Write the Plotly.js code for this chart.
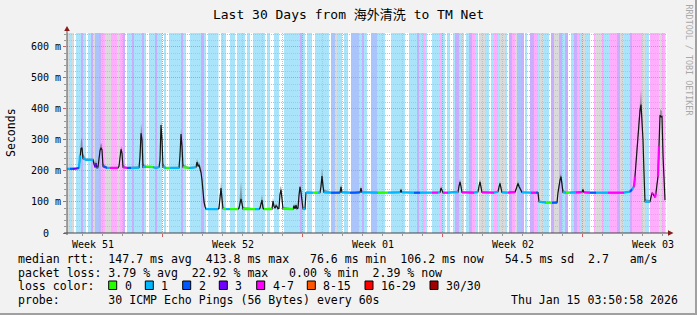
<!DOCTYPE html>
<html><head><meta charset="utf-8">
<script src="https://cdn.plot.ly/plotly-3.0.1.min.js"></script>
<style>html,body{margin:0;padding:0;background:#f2f2f2;}#chart{width:697px;height:315px;}</style>
</head><body><div id="chart"></div>
<script>
// ---------------- DATA ----------------
const chartTitle = 'Last 30 Days from 海外清洗 to TM Net';
const yTitle = 'Seconds';
const watermark = 'RRDTOOL / TOBI OETIKER';
const weekLabels = ['Week 51', 'Week 52', 'Week 01', 'Week 02', 'Week 03'];
const weekLabelPos = [1.3, 8.3, 15.3, 22.3, 29.3];       // days from start (mid-week)
const weekStarts = [4.77, 11.77, 18.77, 25.77];           // days from start
const firstMidnight = 0.77;
const yTickVals = [0, 100, 200, 300, 400, 500, 600];
const yTickText = ['0  ', '100 m', '200 m', '300 m', '400 m', '500 m', '600 m'];
const lossClasses = ['0', '1', '2', '3', '4-7', '8-15', '16-29', '30/30'];
const lossColors = ['#26ff00', '#00b8ff', '#0059ff', '#7000ff', '#ff00ff', '#ff5500', '#ff0000', '#a10000'];
const statsRtt = 'median rtt:  147.7 ms avg  413.8 ms max   76.6 ms min  106.2 ms now   54.5 ms sd  2.7   am/s';
const statsLoss = 'packet loss: 3.79 % avg  22.92 % max   0.00 % min  2.39 % now';
const lossLabel = 'loss color:';
const probeText = 'probe:       30 ICMP Echo Pings (56 Bytes) every 60s';
const stampText = 'Thu Jan 15 03:50:58 2026';

// loss background bands: start day and loss class ('0' none, '1','2','3','4-7', '?' grey)
const bandStart = [0,0.1,0.25,0.35,0.45,0.7,0.8,0.95,1.05,1.2,
  1.3,1.4,1.6,1.7,1.9,2.2,2.5,2.65,2.8,2.9,
  3.0,3.25,3.35,3.75,3.85,3.95,4.1,4.4,4.5,4.75,
  4.85,4.95,5.1,5.7,5.8,5.95,6.15,6.7,6.85,6.95,
  7.05,7.575,7.7,7.95,8.15,8.4,8.5,8.9,9.0,9.15,
  9.3,9.9,10.0,10.15,10.35,10.6,10.85,11.65,11.75,11.9,
  12.0,12.25,12.4,13.1,13.2,13.4,13.5,13.75,13.85,14.05,
  14.2,14.6,14.75,14.85,15.0,15.2,15.5,15.9,16.2,16.9,
  17.1,17.5,17.6,17.8,17.9,18.0,18.25,18.65,18.75,18.9,
  19.0,19.15,19.3,19.4,19.6,19.75,19.85,19.95,20.1,20.25,
  20.4,20.55,20.6,20.9,21.1,21.2,21.35,21.55,21.65,21.9,
  22.0,22.1,22.25,22.4,22.5,22.7,22.85,22.9,23.0,23.15,
  23.35,23.55,23.65,23.85,24.1,24.2,24.35,24.6,24.75,24.9,
  25.05,25.2,25.35,25.5,25.65,25.75,25.9,26.15,26.35,26.4,
  26.75,26.85,27.15,27.5,27.65,27.85,28.15,28.25,28.75,28.9,
  29.1,29.15,29.6,29.75];
const bandLoss = ['?','1','?','0','1','3','1','0','1','3',
  '?','2','3','4-7','?','4-7','?','4-7','3','0',
  '1','3','1','3','1','0','1','3','1','0',
  '1','0','1','3','1','0','1','3','1','0',
  '1','0','1','0','1','0','1','0','1','0',
  '1','0','1','0','1','0','1','3','1','0',
  '1','0','1','0','2','?','1','0','1','0',
  '2','1','3','1','0','2','1','0','1','0',
  '1','3','1','4-7','1','0','1','4-7','1','0',
  '1','0','1','3','1','?','0','1','3','4-7',
  '1','0','?','1','0','1','4-7','1','?','1',
  '0','3','4-7','?','2','3','0','1','0','3',
  '4-7','1','?','1','0','3','?','3','1','3',
  '0','1','3','4-7','1','?','1','0','4-7','?',
  '4-7','1','4-7','3','?','1','3','4-7','?','1',
  '0','4-7','?','4-7'];
const dataEnd = 29.925;

// median rtt series (days from start, ms), smoke top (ms), loss class index (null = not coloured)
const t = [0,0.15,0.3,0.5,0.6,0.65,0.7,0.75,0.8,0.95,
  1.15,1.3,1.35,1.4,1.45,1.5,1.55,1.6,1.65,1.7,
  1.75,1.8,2.0,2.15,2.35,2.55,2.6,2.65,2.7,2.75,
  2.8,3.0,3.2,3.4,3.6,3.65,3.7,3.75,3.8,3.95,
  4.15,4.3,4.45,4.6,4.65,4.7,4.75,4.8,4.95,5.15,
  5.4,5.6,5.65,5.7,5.75,5.8,6.1,6.25,6.45,6.5,
  6.55,6.6,6.65,6.7,6.75,6.8,6.85,6.9,6.95,7.15,
  7.35,7.55,7.6,7.65,7.7,7.75,7.8,7.95,8.15,8.55,
  8.6,8.65,8.7,8.75,8.8,9.4,9.6,9.65,9.7,9.75,
  9.8,9.85,10.25,10.3,10.35,10.4,10.45,10.5,10.55,10.6,
  10.65,10.7,10.75,10.8,11.3,11.35,11.4,11.45,11.5,11.55,
  11.6,11.65,11.7,11.75,11.8,11.9,11.95,12.3,12.55,12.65,
  12.7,12.75,12.8,12.85,13.2,13.45,13.65,13.7,13.75,14.15,
  14.45,14.65,14.7,14.75,15.55,16.05,16.65,16.7,16.75,17.35,
  17.65,18.25,18.55,18.65,18.7,18.75,18.8,19.05,19.55,19.6,
  19.65,19.7,19.75,20.35,20.55,20.6,20.65,20.7,20.75,21.35,
  21.55,21.6,21.65,21.7,21.75,22.05,22.4,22.45,22.5,22.55,
  22.6,22.7,22.75,23.2,23.45,23.55,23.6,23.95,24.25,24.5,
  24.55,24.6,24.65,24.7,24.75,24.8,24.95,25.15,25.45,25.75,
  25.8,25.85,26.15,26.45,27.05,27.85,28.15,28.25,28.35,28.4,
  28.45,28.5,28.55,28.6,28.65,28.7,28.75,28.8,28.85,28.9,
  29.15,29.2,29.25,29.3,29.4,29.45,29.5,29.55,29.6,29.65,
  29.7,29.75,29.8,29.85,29.9];
const rtt = [207,207,207,208,210,250,272,275,240,236,
  236,236,222,212,225,210,212,245,265,275,
  268,215,210,210,210,210,215,255,270,258,
  212,210,210,210,211,245,322,300,212,214,
  214,212,210,212,235,348,300,212,210,210,
  210,210,250,319,280,212,210,210,212,229,
  215,220,210,195,170,120,100,85,77,77,
  77,77,80,120,145,110,78,77,77,77,
  80,100,110,95,77,77,77,80,95,106,
  80,77,77,103,85,80,88,85,78,80,
  125,139,110,78,77,88,78,90,78,80,
  120,149,130,100,78,77,130,130,130,130,
  150,184,150,131,130,130,130,149,131,130,
  130,131,145,131,130,130,131,140,131,130,
  130,130,130,131,145,135,130,130,132,150,
  165,150,131,130,132,150,165,148,131,130,
  133,148,160,145,131,130,132,140,150,160,
  150,140,131,130,130,130,101,98,98,98,
  130,160,170,182,160,131,130,130,130,132,
  140,131,130,130,130,130,133,140,150,182,
  230,268,300,354,395,414,360,300,193,101,
  101,115,129,125,115,130,160,182,280,380,
  375,376,250,149,106];
const smokeTop = [210,210,210,211,214,262,300,306,255,240,
  240,240,236,225,235,220,218,255,280,290,
  285,225,213,213,213,214,222,268,280,272,
  220,213,213,213,215,270,355,330,225,217,
  217,215,213,216,250,361,330,225,213,213,
  213,214,265,335,300,222,213,213,215,240,
  225,230,222,210,185,140,115,95,82,80,
  80,80,90,140,165,130,85,80,80,80,
  88,130,165,120,85,80,80,88,115,123,
  95,80,82,115,95,85,95,92,82,90,
  145,152,130,85,80,95,82,98,82,90,
  140,152,145,115,85,80,135,133,133,134,
  170,210,180,140,133,133,134,158,136,133,
  133,135,152,135,133,133,134,146,134,133,
  133,133,133,134,152,140,133,133,136,158,
  175,158,135,133,136,158,175,156,135,133,
  137,155,168,152,135,133,136,148,158,168,
  158,145,134,133,133,133,104,101,101,102,
  140,170,185,190,172,140,133,133,133,136,
  146,134,133,133,133,133,137,145,158,195,
  250,290,330,380,430,461,400,330,220,110,
  106,122,135,130,122,140,175,200,310,400,
  395,395,280,165,110];
const n = null;
const loss = [1,2,3,2,1,n,n,n,1,1,
  1,n,n,3,n,2,n,n,n,n,
  n,2,1,4,4,n,n,n,n,n,
  4,2,1,1,n,n,n,n,1,0,
  0,1,1,n,n,n,n,1,0,1,
  1,n,n,n,n,0,1,1,n,n,
  n,n,n,n,n,n,n,n,1,1,
  1,n,n,n,n,n,0,1,0,n,
  n,n,n,n,0,1,n,n,n,n,
  n,0,n,n,n,n,n,n,n,n,
  n,n,n,0,n,n,n,n,n,n,
  n,n,n,n,1,n,1,0,1,n,
  n,n,n,1,2,2,n,n,1,2,
  2,n,n,1,0,1,n,n,1,2,
  1,4,1,n,n,n,4,1,n,n,
  n,n,4,1,n,n,n,n,4,1,
  n,n,n,n,1,4,n,n,n,n,
  n,n,1,4,2,n,1,0,2,n,
  n,n,n,n,n,1,0,1,4,n,
  n,4,2,1,4,1,2,1,4,n,
  n,n,n,n,n,n,n,n,n,1,
  n,n,4,n,4,n,n,4,n,n,
  n,n,n,n,4];

// ---------------- LAYOUT HELPERS ----------------
const FONT = '"DejaVu Sans Mono", "Noto Sans CJK SC", monospace';
const W = 697, H = 315, L = 67, T = 33, PW = 600, PH = 200;
const px = v => (v - L) / PW;           // page pixel -> paper x
const py = v => (T + PH - v) / PH;      // page pixel -> paper y
const nb = s => s.replace(/ /g, '\u00a0');
const bandColor = {'1': '#a9e4fb', '2': '#a9c5fc', '3': '#c8aefc', '4-7': '#feaefc', '?': '#dadada'};

// ---------------- TRACES ----------------
const traces = [];
traces.push({x: t, y: rtt, mode: 'lines', line: {width: 0, color: 'rgba(0,0,0,0)'}, hoverinfo: 'skip'});
traces.push({x: t, y: smokeTop, mode: 'lines', line: {width: 0, color: 'rgba(0,0,0,0)'},
  fill: 'tonexty', fillcolor: 'rgba(90,90,90,0.5)', hoverinfo: 'skip'});
traces.push({x: t, y: rtt, mode: 'lines', line: {width: 1.2, color: '#151515'}, hoverinfo: 'skip'});
for (let c = 0; c < lossClasses.length; c++) {
  const xs = [], ys = [];
  for (let i = 0; i < t.length - 1; i++) {
    if (loss[i] === c) { xs.push(t[i], t[i + 1], null); ys.push(rtt[i], rtt[i + 1], null); }
  }
  if (xs.length) traces.push({x: xs, y: ys, mode: 'lines', line: {width: 2.2, color: lossColors[c]}, hoverinfo: 'skip', connectgaps: false});
}
traces.push({x: [null], y: [null], xaxis: 'x2', yaxis: 'y', mode: 'markers', hoverinfo: 'skip'});

// ---------------- SHAPES ----------------
const shapes = [];
for (let i = 0; i < bandStart.length; i++) {
  const cls = bandLoss[i];
  if (cls === '0') continue;
  const x1 = i + 1 < bandStart.length ? bandStart[i + 1] : dataEnd;
  shapes.push({type: 'rect', xref: 'x', yref: 'paper', x0: bandStart[i], x1: x1, y0: 0, y1: 1,
    fillcolor: bandColor[cls], line: {width: 0}, layer: 'below'});
}
// axis arrows & extensions
shapes.push({type: 'line', xref: 'paper', yref: 'paper', x0: px(67), x1: px(67), y0: py(235), y1: py(30), line: {color: '#555', width: 1}, layer: 'above'});
shapes.push({type: 'line', xref: 'paper', yref: 'paper', x0: px(64), x1: px(669), y0: py(233), y1: py(233), line: {color: '#444', width: 1}, layer: 'above'});
shapes.push({type: 'path', xref: 'paper', yref: 'paper', path: `M ${px(64.2)} ${py(31)} L ${px(69.8)} ${py(31)} L ${px(67)} ${py(26)} Z`, fillcolor: '#8b1a1a', line: {width: 0}, layer: 'above'});
shapes.push({type: 'path', xref: 'paper', yref: 'paper', path: `M ${px(668)} ${py(230.2)} L ${px(668)} ${py(235.8)} L ${px(673.5)} ${py(233)} Z`, fillcolor: '#8b1a1a', line: {width: 0}, layer: 'above'});
// frame shading
shapes.push({type: 'rect', xref: 'paper', yref: 'paper', x0: px(695), x1: px(697), y0: py(315), y1: py(0), fillcolor: '#a0a0a0', line: {width: 0}, layer: 'above'});
shapes.push({type: 'rect', xref: 'paper', yref: 'paper', x0: px(0), x1: px(697), y0: py(315), y1: py(313), fillcolor: '#a0a0a0', line: {width: 0}, layer: 'above'});
// loss colour legend boxes
const boxX = [108.7, 145.3, 182.7, 219.3, 256.7, 307.3, 365, 430];
const annotations = [];
boxX.forEach((bx, i) => {
  shapes.push({type: 'rect', xref: 'paper', yref: 'paper', x0: px(bx), x1: px(bx + 8), y0: py(289.5), y1: py(281),
    fillcolor: lossColors[i], line: {color: '#000', width: 1}, layer: 'above'});
  annotations.push({xref: 'paper', yref: 'paper', x: px(bx + 14), y: py(286), xanchor: 'left', yanchor: 'middle',
    text: nb(lossClasses[i]), showarrow: false, font: {family: FONT, size: 11.55, color: '#000'}});
});

const textLine = (s, xp, yp, anchor) => ({xref: 'paper', yref: 'paper', x: px(xp), y: py(yp), xanchor: anchor || 'left', yanchor: 'middle',
  text: nb(s), showarrow: false, font: {family: FONT, size: 11.55, color: '#000'}});
annotations.push(textLine(statsRtt, 16, 259));
annotations.push(textLine(statsLoss, 16, 272.8));
annotations.push(textLine(lossLabel, 16, 286));
annotations.push(textLine(probeText, 16, 300.3));
annotations.push(textLine(stampText, 680, 300.3, 'right'));
annotations.push({xref: 'paper', yref: 'paper', x: px(11), y: py(133), xanchor: 'center', yanchor: 'middle', textangle: -90,
  text: yTitle, showarrow: false, font: {family: FONT, size: 11.55, color: '#000'}});
annotations.push({xref: 'paper', yref: 'paper', x: px(688.5), y: py(60), xanchor: 'center', yanchor: 'middle', textangle: 90,
  text: nb(watermark), showarrow: false, font: {family: FONT, size: 8.4, color: '#a8a8a8'}});

// ---------------- LAYOUT ----------------
const layout = {
  width: W, height: H,
  margin: {l: L, r: W - L - PW, t: T, b: H - T - PH, pad: 0},
  paper_bgcolor: '#f2f2f2', plot_bgcolor: '#ffffff',
  showlegend: false, hovermode: false,
  font: {family: FONT, size: 10, color: '#000'},
  title: {text: chartTitle, font: {family: FONT, size: 13, color: '#000'},
    xref: 'container', x: 0.5, xanchor: 'center', yref: 'container', y: 1 - 14.5 / H, yanchor: 'middle'},
  xaxis: {range: [0, 30], tickmode: 'array', tickvals: weekStarts, showticklabels: false,
    ticks: 'outside', ticklen: 3, tickcolor: '#d06060', showgrid: true, gridcolor: '#e29090', gridwidth: 1, griddash: '1px,1px',
    zeroline: false, showline: false, fixedrange: true,
    minor: {tickmode: 'linear', tick0: firstMidnight, dtick: 1, showgrid: true, gridcolor: '#c0c0c0', griddash: '1px,1px',
      ticks: 'outside', ticklen: 2, tickcolor: '#999'}},
  xaxis2: {overlaying: 'x', anchor: 'y', side: 'bottom', range: [0, 30], tickmode: 'array', tickvals: weekLabelPos,
    ticktext: weekLabels, ticks: '', showgrid: false, zeroline: false, showline: false, ticklabelstandoff: 4,
    tickfont: {family: FONT, size: 10, color: '#000'}, fixedrange: true},
  yaxis: {range: [0, 645], tickmode: 'array', tickvals: yTickVals, ticktext: yTickText.map(nb),
    ticks: 'outside', ticklen: 3, tickcolor: '#d06060', showgrid: true, gridcolor: '#e29090', gridwidth: 1, griddash: '1px,1px',
    zeroline: false, showline: false, fixedrange: true, tickfont: {family: FONT, size: 10, color: '#000'},
    minor: {tickmode: 'linear', tick0: 0, dtick: 20, showgrid: true, gridcolor: '#c0c0c0', griddash: '1px,1px',
      ticks: 'outside', ticklen: 2, tickcolor: '#999'}},
  shapes: shapes,
  annotations: annotations
};

Plotly.newPlot('chart', traces, layout, {staticPlot: true, displayModeBar: false});
</script>
</body></html>
